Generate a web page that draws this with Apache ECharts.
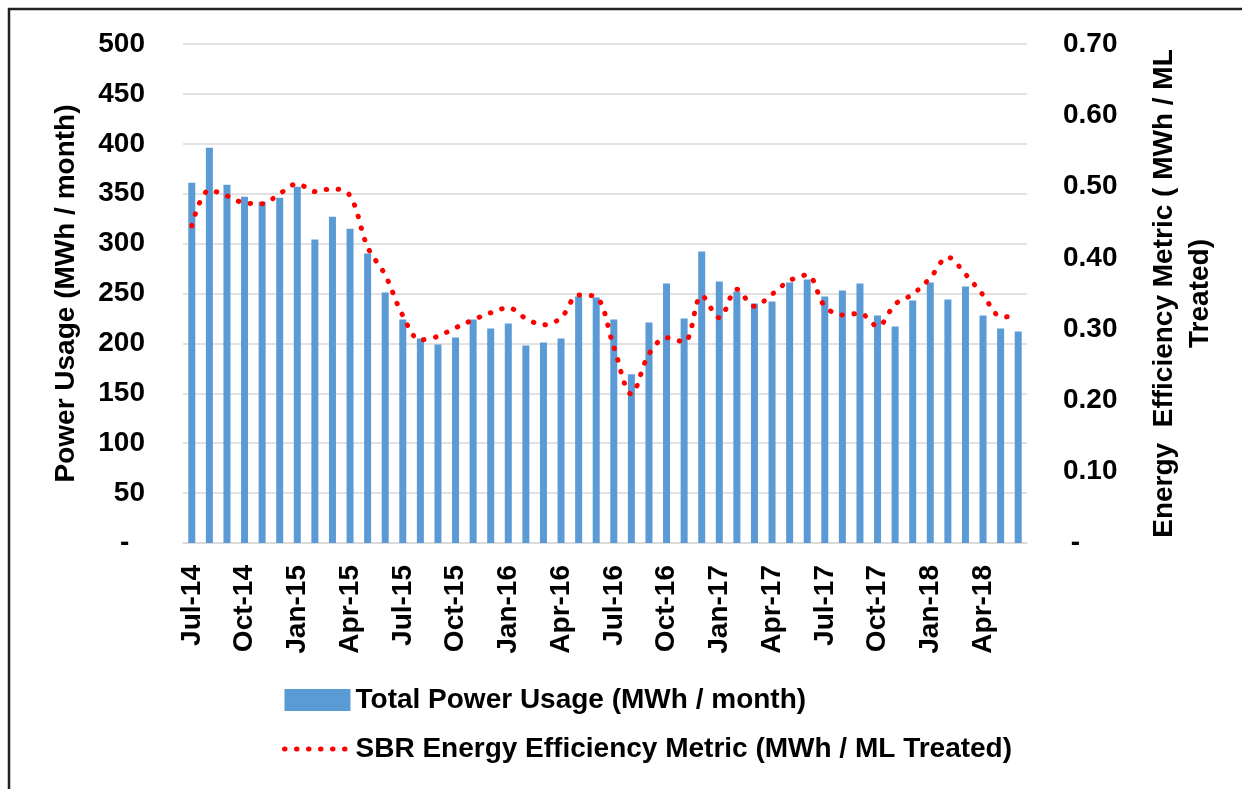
<!DOCTYPE html>
<html>
<head>
<meta charset="utf-8">
<script src="https://cdn.jsdelivr.net/npm/echarts@6/dist/echarts.min.js"></script>
<style>
  html, body { margin: 0; padding: 0; background: #fff; }
  #chart { width: 1242px; height: 789px; }
</style>
</head>
<body>
<div id="chart"></div>
<script>
// monthly categories Jul-14 .. Jun-18
const months = [
  'Jul-14', 'Aug-14', 'Sep-14', 'Oct-14', 'Nov-14', 'Dec-14',
  'Jan-15', 'Feb-15', 'Mar-15', 'Apr-15', 'May-15', 'Jun-15',
  'Jul-15', 'Aug-15', 'Sep-15', 'Oct-15', 'Nov-15', 'Dec-15',
  'Jan-16', 'Feb-16', 'Mar-16', 'Apr-16', 'May-16', 'Jun-16',
  'Jul-16', 'Aug-16', 'Sep-16', 'Oct-16', 'Nov-16', 'Dec-16',
  'Jan-17', 'Feb-17', 'Mar-17', 'Apr-17', 'May-17', 'Jun-17',
  'Jul-17', 'Aug-17', 'Sep-17', 'Oct-17', 'Nov-17', 'Dec-17',
  'Jan-18', 'Feb-18', 'Mar-18', 'Apr-18', 'May-18', 'Jun-18'
];

// Total Power Usage (MWh / month)
const powerUsage = [
  361, 396, 359, 347, 342, 346,
  357, 304, 327, 315, 290, 251,
  224, 205, 199, 206, 224, 215,
  220, 198, 201, 205, 247, 246,
  224, 169, 221, 260, 225, 292,
  262, 252, 240, 242, 261, 264,
  247, 253, 260, 228, 217, 243,
  261, 244, 257, 228, 215, 212
];

// SBR Energy Efficiency Metric (MWh / ML Treated)
const efficiency = [
  0.445, 0.495, 0.487, 0.477, 0.476, 0.490,
  0.504, 0.493, 0.497, 0.487, 0.415, 0.376,
  0.319, 0.285, 0.290, 0.302, 0.313, 0.323,
  0.330, 0.315, 0.306, 0.316, 0.348, 0.345,
  0.275, 0.209, 0.265, 0.288, 0.282, 0.347,
  0.316, 0.356, 0.332, 0.349, 0.368, 0.376,
  0.332, 0.320, 0.322, 0.304, 0.335, 0.349,
  0.372, 0.401, 0.377, 0.348, 0.318, 0.317
];

const fontFamily = '"Liberation Sans", Arial, sans-serif';
const gridColor = '#d9d9d9';
const dotLine = { color: '#ff0000', width: 5, type: [0.5, 11.5], cap: 'round' };

const chart = echarts.init(document.getElementById('chart'));
chart.setOption({
  animation: false,
  textStyle: { fontFamily: fontFamily },
  graphic: [{
    type: 'rect',
    shape: { x: 9, y: 9, width: 1300, height: 900 },
    style: { fill: 'none', stroke: '#222', lineWidth: 2.5 },
    silent: true
  }],
  grid: { left: 183, right: 215, top: 44, bottom: 246 },
  legend: {
    orient: 'vertical',
    left: 277,
    top: 681,
    itemWidth: 66,
    itemHeight: 22,
    itemGap: 21,
    textStyle: { fontSize: 28, fontWeight: 'bold', color: '#000', fontFamily: fontFamily },
    data: [
      { name: 'Total Power Usage (MWh / month)', icon: 'rect' },
      {
        name: 'SBR Energy Efficiency Metric (MWh / ML Treated)',
        itemStyle: { opacity: 0 },
        lineStyle: dotLine
      }
    ]
  },
  xAxis: {
    type: 'category',
    data: months,
    boundaryGap: true,
    axisLine: { lineStyle: { color: gridColor, width: 1.5 } },
    axisTick: { interval: 2, length: 10, lineStyle: { color: gridColor, width: 1.5 } },
    axisLabel: {
      interval: 2,
      rotate: 90,
      margin: 22,
      fontSize: 28,
      fontWeight: 'bold',
      color: '#000'
    }
  },
  yAxis: [
    {
      type: 'value',
      min: 0,
      max: 500,
      interval: 50,
      name: 'Power Usage (MWh / month)',
      nameLocation: 'middle',
      nameRotate: 90,
      nameGap: 103,
      nameTextStyle: { fontSize: 28, fontWeight: 'bold', color: '#000' },
      axisLine: { show: false },
      axisTick: { show: false },
      axisLabel: {
        margin: 38,
        fontSize: 28,
        fontWeight: 'bold',
        color: '#000',
        formatter: v => (v === 0 ? '-  ' : String(v))
      },
      splitLine: { lineStyle: { color: gridColor, width: 1.5 } }
    },
    {
      type: 'value',
      min: 0,
      max: 0.7,
      interval: 0.1,
      position: 'right',
      name: 'Energy  Efficiency Metric ( MWh / ML\nTreated)',
      nameLocation: 'middle',
      nameRotate: 90,
      nameGap: 119,
      nameTextStyle: { fontSize: 28, fontWeight: 'bold', color: '#000', lineHeight: 36, align: 'center' },
      axisLine: { show: false },
      axisTick: { show: false },
      axisLabel: {
        margin: 36,
        fontSize: 28,
        fontWeight: 'bold',
        color: '#000',
        formatter: v => (v === 0 ? ' -' : v.toFixed(2))
      },
      splitLine: { show: false }
    }
  ],
  series: [
    {
      name: 'Total Power Usage (MWh / month)',
      type: 'bar',
      data: powerUsage,
      barWidth: 7,
      itemStyle: { color: '#5b9bd5' }
    },
    {
      name: 'SBR Energy Efficiency Metric (MWh / ML Treated)',
      type: 'line',
      yAxisIndex: 1,
      data: efficiency,
      smooth: 0.35,
      symbol: 'none',
      z: 5,
      itemStyle: { color: '#ff0000' },
      lineStyle: dotLine
    }
  ]
});
</script>
</body>
</html>
